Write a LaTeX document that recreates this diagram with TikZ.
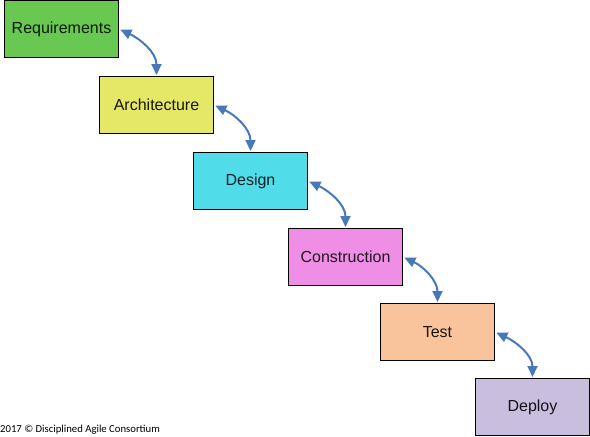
\documentclass[tikz,border=0pt]{standalone}
\usepackage{fontspec}
\setmainfont{Liberation Sans}
\newfontfamily\footfont{Carlito}
\usetikzlibrary{arrows.meta}
\definecolor{cReq}{RGB}{104,200,82}
\definecolor{cArch}{RGB}{229,232,102}
\definecolor{cDes}{RGB}{80,221,233}
\definecolor{cCon}{RGB}{238,142,228}
\definecolor{cTest}{RGB}{249,196,156}
\definecolor{cDep}{RGB}{201,190,222}
\definecolor{cArr}{RGB}{72,120,186}
\begin{document}
\begin{tikzpicture}[x=1pt,y=-1pt,
  phase/.style={draw=black, line width=1pt, minimum width=114pt, minimum height=57pt,
    inner sep=0pt, font=\fontsize{16}{18}\selectfont, anchor=north west},
  link/.style={draw=cArr, line width=2pt, {Triangle[length=11pt,width=10pt]}-{Triangle[length=11pt,width=10pt]}, shorten <=1.5pt, shorten >=1pt}]
\useasboundingbox (0,0) rectangle (590,437);
\node[phase, fill=cReq, text=cReq!12!black] (req) at (4,0) {Requirements};
\node[phase, fill=cArch, text=cArch!10!black] (arch) at (99,76) {Architecture};
\node[phase, fill=cDes, text=cDes!15!black] (des) at (193,152) {Design};
\node[phase, fill=cCon, text=cCon!15!black] (con) at (288,228) {Construction};
\node[phase, fill=cTest, text=cTest!10!black] (test) at (380,303) {Test};
\node[phase, fill=cDep, text=cDep!10!black] (dep) at (475,378) {Deploy};
\draw[link] (req.east) to[out=-25, in=90] (arch.north);
\draw[link] (arch.east) to[out=-25, in=90] (des.north);
\draw[link] (des.east) to[out=-25, in=90] (con.north);
\draw[link] (con.east) to[out=-25, in=90] (test.north);
\draw[link] (test.east) to[out=-25, in=90] (dep.north);
\node[font=\footfont\fontsize{10.7}{12}\selectfont, anchor=base west, inner sep=0pt] (foot) at (0,432) {2017 © Disciplined Agile Consortium};
\end{tikzpicture}
\end{document}
